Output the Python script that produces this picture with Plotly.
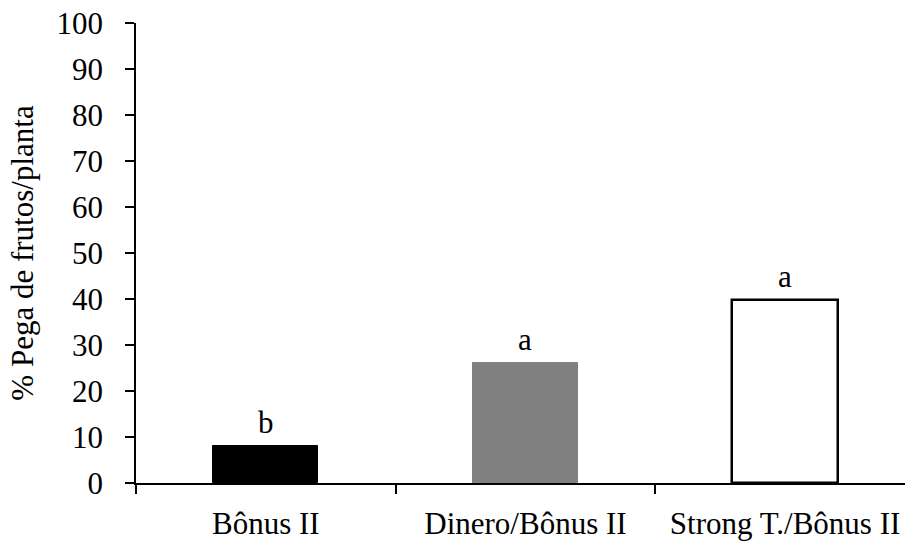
import plotly.graph_objects as go

categories = ["Bônus II", "Dinero/Bônus II", "Strong T./Bônus II"]
values = [8.0, 26.1, 39.8]
letters = ["b", "a", "a"]
fill_colors = ["#000000", "#808080", "#ffffff"]
line_colors = ["#000000", "#808080", "#000000"]
y_ticks = list(range(0, 101, 10))

FONT = "Liberation Serif"

fig = go.Figure()
fig.add_trace(go.Bar(
    x=categories, y=values, width=0.405,
    marker=dict(color=fill_colors, line=dict(color=line_colors, width=[1, 1, 2.5])),
    showlegend=False, hoverinfo="skip",
))

for c, v, t in zip(categories, values, letters):
    fig.add_annotation(x=c, y=v, text=t, showarrow=False, yanchor="bottom",
                       yshift=4, font=dict(family=FONT, size=31, color="black"))

fig.update_layout(
    width=905, height=549,
    margin=dict(l=136, r=0, t=23, b=66),
    plot_bgcolor="white", paper_bgcolor="white",
    font=dict(family=FONT, size=31, color="black"),
    bargap=0,
)
fig.update_xaxes(
    range=[-0.5, 2.462], showline=True, linecolor="black", linewidth=1.5,
    ticks="outside", tickson="boundaries", ticklen=9, tickwidth=1.5, tickcolor="black",
    showgrid=False, zeroline=False, ticklabelstandoff=12,
    tickfont=dict(family=FONT, size=31),
)
fig.update_yaxes(
    range=[0, 100], tickvals=y_ticks, showline=True, linecolor="black", linewidth=1.5,
    ticks="outside", ticklen=9, tickwidth=1.5, tickcolor="black",
    showgrid=False, zeroline=False, ticklabelstandoff=16,
    tickfont=dict(family=FONT, size=31),
    title=dict(text="% Pega de frutos/planta", font=dict(family=FONT, size=31), standoff=14),
)

fig.write_html("out.html")
